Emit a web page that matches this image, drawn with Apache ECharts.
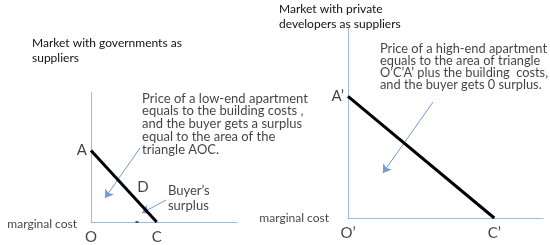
<!DOCTYPE html>
<html><head><meta charset="utf-8">
<script src="https://cdn.jsdelivr.net/npm/echarts@6/dist/echarts.min.js"></script>
<style>html,body{margin:0;padding:0;background:#fff}#c{width:550px;height:245px}</style>
</head><body><div id="c"></div>
<script>
// Left panel: market with governments as suppliers
const leftTitle = 'Market with governments as\nsuppliers';
const leftCurve = [[0, 5.5], [4.5, 0]];
const leftArrows = [[[3.36, 5.69], [0.96, 1.85]], [[5.14, 1.69], [3.49, 0.69]]];
const leftLetters = [['A', 0, 5.5, 'left'], ['O', 0, 0, 'bottom'], ['C', 4.5, 0, 'bottom'], ['D', 3.56, 2.7, 'inside']];
const leftNote = 'Price of a low-end apartment\nequals to the building costs ,\nand the buyer gets a surplus\nequal to the area of the\ntriangle AOC.';
const leftNotePos = [3.5, 10];
const surplusNote = 'Buyer\u2019s\nsurplus';
const surplusPos = [5.27, 3.0];
const leftTick = [[3.15, 0]];

// Right panel: market with private developers as suppliers
const rightTitle = 'Market with private\ndevelopers as suppliers';
const rightCurve = [[0, 6.4], [7.5, 0]];
const rightArrows = [[[4.36, 6.1], [1.79, 2.37]]];
const rightLetters = [['A\u2019', 0, 6.4, 'left'], ['O\u2019', 0, 0, 'bottom'], ['C\u2019', 7.5, 0, 'bottom']];
const rightNote = 'Price of a high-end apartment\nequals to the area of triangle\nO\u2019C\u2019A\u2019 plus the building  costs,\nand the buyer gets 0 surplus.';
const rightNotePos = [1.64, 9.2];

const axisLabel = 'marginal cost';

const FONT = 'Lato';
const TXT = '#111';
const AXIS = '#9dbbe0';
const ARROW = '#6f9ad6';

function axes(idx) {
  return {type: 'value', min: 0, max: 10, gridIndex: idx,
    axisLine: {show: true, lineStyle: {color: AXIS, width: 1}},
    axisTick: {show: false}, axisLabel: {show: false}, splitLine: {show: false}};
}

const chart = echarts.init(document.getElementById('c'), null, {renderer: 'canvas'});

function letterSeries(idx, letters) {
  return {
    type: 'scatter', xAxisIndex: idx, yAxisIndex: idx, symbolSize: 0, clip: false, silent: true,
    data: letters.map(l => ({
      value: [l[1], l[2]],
      label: {show: true, formatter: l[0], position: l[3],
        distance: l[3] === 'left' ? 4 : 8,
        color: TXT, fontFamily: FONT, fontSize: 15}
    }))
  };
}
function noteSeries(idx, pos, text, fs, lh) {
  return {
    type: 'scatter', xAxisIndex: idx, yAxisIndex: idx, symbolSize: 0, clip: false, silent: true,
    data: [{value: pos, label: {show: true, formatter: text, position: [0, 0], align: 'left', verticalAlign: 'top',
      color: TXT, fontFamily: FONT, fontSize: fs, lineHeight: lh}}]
  };
}
function arrowSeries(idx, arr) {
  return {
    type: 'lines', coordinateSystem: 'cartesian2d', xAxisIndex: idx, yAxisIndex: idx, silent: true,
    symbol: ['none', 'arrow'], symbolSize: 8,
    lineStyle: {color: ARROW, width: 1, opacity: 1},
    data: arr.map(c => ({coords: c}))
  };
}
function curveSeries(idx, d) {
  return {type: 'line', xAxisIndex: idx, yAxisIndex: idx, data: d, showSymbol: false, silent: true,
    lineStyle: {color: '#000', width: 3}};
}
function mcSeries(idx, dist, off) {
  return {type: 'scatter', xAxisIndex: idx, yAxisIndex: idx, symbolSize: 0, clip: false, silent: true,
    data: [{value: [0, 0], label: {show: true, formatter: axisLabel, position: 'left', distance: dist, offset: [0, off],
      color: TXT, fontFamily: FONT, fontSize: 12}}]};
}

chart.setOption({
  animation: false,
  title: [
    {text: leftTitle, left: 27, top: 31, textStyle: {fontFamily: FONT, fontSize: 12, fontWeight: 'normal', color: TXT, lineHeight: 15}},
    {text: rightTitle, left: 274, top: -3, textStyle: {fontFamily: FONT, fontSize: 12, fontWeight: 'normal', color: TXT, lineHeight: 15}}
  ],
  grid: [
    {left: 91, top: 92, width: 146, height: 130},
    {left: 348, top: 28, width: 195, height: 190}
  ],
  xAxis: [axes(0), axes(1)],
  yAxis: [axes(0), axes(1)],
  series: [
    curveSeries(0, leftCurve),
    curveSeries(1, rightCurve),
    arrowSeries(0, leftArrows),
    arrowSeries(1, rightArrows),
    letterSeries(0, leftLetters),
    letterSeries(1, rightLetters),
    noteSeries(0, leftNotePos, leftNote, 13, 12.8),
    noteSeries(0, surplusPos, surplusNote, 13, 15),
    noteSeries(1, rightNotePos, rightNote, 12.8, 12),
    mcSeries(0, 14, 2),
    mcSeries(1, 19, 0),
    {type: 'scatter', xAxisIndex: 0, yAxisIndex: 0, symbol: 'rect', symbolSize: [3, 2], clip: false, silent: true,
      itemStyle: {color: '#333'}, data: leftTick}
  ]
});
</script></body></html>
